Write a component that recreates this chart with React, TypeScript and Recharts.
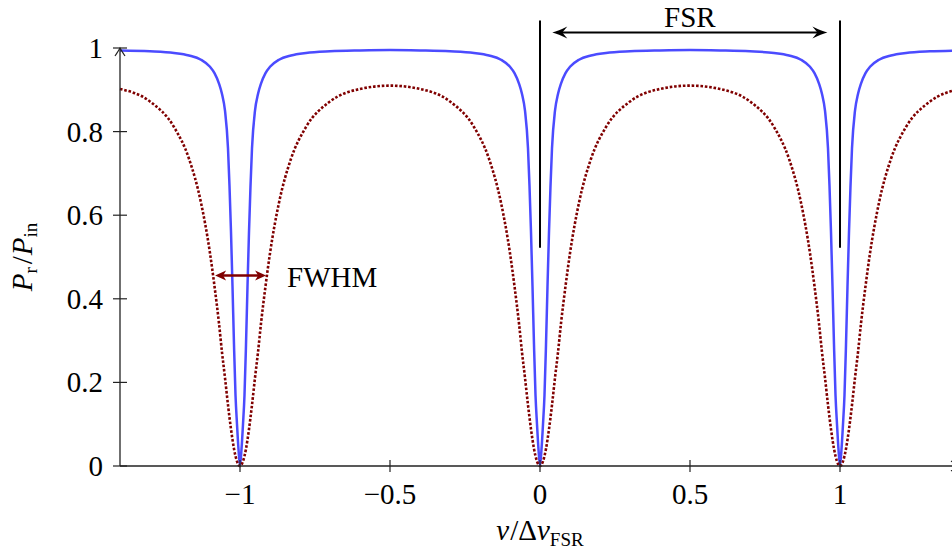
import { LineChart, Line, XAxis, YAxis, ReferenceLine, ReferenceDot } from 'recharts';

// normalised detuning nu / delta nu_FSR
const nu = [
  -1.4, -1.3, -1.22, -1.17, -1.13, -1.1, -1.085, -1.07, -1.06, -1.05, -1.04, -1.035, -1.03, -1.025, -1.02, -1.015, -1.01, -1.005,
  -1,
  -0.995, -0.99, -0.985, -0.98, -0.975, -0.97, -0.965, -0.96, -0.95, -0.94, -0.93, -0.915, -0.9, -0.87, -0.83, -0.78, -0.7, -0.6,
  -0.5,
  -0.4, -0.3, -0.22, -0.17, -0.13, -0.1, -0.085, -0.07, -0.06, -0.05, -0.04, -0.035, -0.03, -0.025, -0.02, -0.015, -0.01, -0.005,
  0,
  0.005, 0.01, 0.015, 0.02, 0.025, 0.03, 0.035, 0.04, 0.05, 0.06, 0.07, 0.085, 0.1, 0.13, 0.17, 0.22, 0.3, 0.4,
  0.5,
  0.6, 0.7, 0.78, 0.83, 0.87, 0.9, 0.915, 0.93, 0.94, 0.95, 0.96, 0.965, 0.97, 0.975, 0.98, 0.985, 0.99, 0.995,
  1,
  1.005, 1.01, 1.015, 1.02, 1.025, 1.03, 1.035, 1.04, 1.05, 1.06, 1.07, 1.085, 1.1, 1.13, 1.17, 1.22, 1.3, 1.4,
];

// high finesse (solid blue)
const blueReflection = [
  0.994, 0.992, 0.988, 0.982, 0.972, 0.955, 0.94, 0.915, 0.89, 0.85, 0.76, 0.67, 0.56, 0.43, 0.29, 0.17, 0.1, 0.04,
  0,
  0.04, 0.1, 0.17, 0.29, 0.43, 0.56, 0.67, 0.76, 0.85, 0.89, 0.915, 0.94, 0.955, 0.972, 0.982, 0.988, 0.992, 0.994,
  0.995,
  0.994, 0.992, 0.988, 0.982, 0.972, 0.955, 0.94, 0.915, 0.89, 0.85, 0.76, 0.67, 0.56, 0.43, 0.29, 0.17, 0.1, 0.04,
  0,
  0.04, 0.1, 0.17, 0.29, 0.43, 0.56, 0.67, 0.76, 0.85, 0.89, 0.915, 0.94, 0.955, 0.972, 0.982, 0.988, 0.992, 0.994,
  0.995,
  0.994, 0.992, 0.988, 0.982, 0.972, 0.955, 0.94, 0.915, 0.89, 0.85, 0.76, 0.67, 0.56, 0.43, 0.29, 0.17, 0.1, 0.04,
  0,
  0.04, 0.1, 0.17, 0.29, 0.43, 0.56, 0.67, 0.76, 0.85, 0.89, 0.915, 0.94, 0.955, 0.972, 0.982, 0.988, 0.992, 0.994,
];

// low finesse (dotted dark red)
const redReflection = [
  0.902, 0.872, 0.811, 0.735, 0.63, 0.509, 0.43, 0.341, 0.272, 0.211, 0.146, 0.116, 0.088, 0.063, 0.041, 0.024, 0.011, 0.003,
  0,
  0.003, 0.011, 0.024, 0.041, 0.063, 0.088, 0.116, 0.146, 0.211, 0.272, 0.341, 0.43, 0.509, 0.63, 0.735, 0.811, 0.872, 0.902,
  0.91,
  0.902, 0.872, 0.811, 0.735, 0.63, 0.509, 0.43, 0.341, 0.272, 0.211, 0.146, 0.116, 0.088, 0.063, 0.041, 0.024, 0.011, 0.003,
  0,
  0.003, 0.011, 0.024, 0.041, 0.063, 0.088, 0.116, 0.146, 0.211, 0.272, 0.341, 0.43, 0.509, 0.63, 0.735, 0.811, 0.872, 0.902,
  0.91,
  0.902, 0.872, 0.811, 0.735, 0.63, 0.509, 0.43, 0.341, 0.272, 0.211, 0.146, 0.116, 0.088, 0.063, 0.041, 0.024, 0.011, 0.003,
  0,
  0.003, 0.011, 0.024, 0.041, 0.063, 0.088, 0.116, 0.146, 0.211, 0.272, 0.341, 0.43, 0.509, 0.63, 0.735, 0.811, 0.872, 0.902,
];

const xTicks = [-1, -0.5, 0, 0.5, 1];
const yTicks = [0, 0.2, 0.4, 0.6, 0.8, 1];

// annotation positions in data units
const fsrArrow = { from: 0.041, to: 0.958, y: 1.037 };
const fsrMarkers = [0, 1];
const fsrMarkerSpan = { bottom: 0.522, top: 1.066 };
const fwhmArrow = { from: -1.083, to: -0.913, y: 0.456 };

const FONT = '"Liberation Serif", "DejaVu Serif", serif';
const FS = 29;
const SUB = 19;
const AXIS = '#222';

const rows = nu.map((v, i) => ({ nu: v, blue: blueReflection[i], red: redReflection[i] }));

const fmt = (v: number) => (v < 0 ? '\u2212' + Math.abs(v) : String(v));

function XTick(props: any) {
  const { x, y, payload } = props;
  return (
    <g>
      <line x1={x} y1={y - 6} x2={x} y2={y + 6} stroke={AXIS} strokeWidth={1.2} />
      <text x={x} y={y + 38} textAnchor="middle" fontFamily={FONT} fontSize={FS} fill="#000">
        {fmt(payload.value)}
      </text>
    </g>
  );
}

function YTick(props: any) {
  const { x, y, payload } = props;
  return (
    <g>
      <line x1={x - 7} y1={y} x2={x + 7} y2={y} stroke={AXIS} strokeWidth={1.2} />
      <text x={x - 17} y={y + 10} textAnchor="end" fontFamily={FONT} fontSize={FS} fill="#000">
        {fmt(payload.value)}
      </text>
    </g>
  );
}

// curved latex-style head, dir = +1 points right, -1 left
function latexHead(tx: number, ty: number, dir: number) {
  const b = tx - dir * 15;
  const n = tx - dir * 10;
  const c = tx - dir * 6;
  return `M${tx},${ty} Q${c},${ty - 1.5} ${b},${ty - 6} L${n},${ty} L${b},${ty + 6} Q${c},${ty + 1.5} ${tx},${ty} Z`;
}

function stealthHead(tx: number, ty: number, dir: number) {
  const b = tx - dir * 11;
  const n = tx - dir * 8;
  return `M${tx},${ty} L${b},${ty - 5} L${n},${ty} L${b},${ty + 5} Z`;
}

function FsrShape(p: any) {
  const { x1, y1, x2, y2 } = p;
  return (
    <g>
      <line x1={x1 + 6} y1={y1} x2={x2 - 6} y2={y2} stroke="#000" strokeWidth={2} />
      <path d={latexHead(x1, y1, -1)} fill="#000" />
      <path d={latexHead(x2, y2, 1)} fill="#000" />
      <text x={(x1 + x2) / 2} y={y1 - 6} textAnchor="middle" fontFamily={FONT} fontSize={FS} fill="#000">
        FSR
      </text>
    </g>
  );
}

function FwhmShape(p: any) {
  const { x1, y1, x2, y2 } = p;
  return (
    <g>
      <line x1={x1 + 5} y1={y1} x2={x2 - 5} y2={y2} stroke="#800000" strokeWidth={2.5} />
      <path d={stealthHead(x1, y1, -1)} fill="#800000" />
      <path d={stealthHead(x2, y2, 1)} fill="#800000" />
      <text x={x2 + 21} y={y1 + 12} fontFamily={FONT} fontSize={FS} fill="#000">
        FWHM
      </text>
    </g>
  );
}

function XAxisShape(p: any) {
  const { x1, y1, x2 } = p;
  return (
    <g>
      <line x1={x1} y1={y1} x2={x2} y2={y1} stroke={AXIS} strokeWidth={1.3} />
      <path d={`M${x2 - 9},${y1 - 5} Q${x2 - 2},${y1 - 1} ${x2},${y1} Q${x2 - 2},${y1 + 1} ${x2 - 9},${y1 + 5}`}
        fill="none" stroke={AXIS} strokeWidth={1.2} />
    </g>
  );
}

function YAxisShape(p: any) {
  const { x1, y1, y2 } = p;
  return (
    <g>
      <line x1={x1} y1={y1} x2={x1} y2={y2} stroke={AXIS} strokeWidth={1.3} />
      <path d={`M${x1 - 5},${y2 + 8} Q${x1 - 1},${y2 + 2} ${x1},${y2} Q${x1 + 1},${y2 + 2} ${x1 + 5},${y2 + 8}`}
        fill="none" stroke={AXIS} strokeWidth={1.2} />
    </g>
  );
}

function XTitle(p: any) {
  const { cx, cy } = p;
  return (
    <text x={cx} y={cy + 74} textAnchor="middle" fontFamily={FONT} fontSize={FS} fill="#000">
      <tspan fontStyle="italic">ν</tspan>
      <tspan dx={1}>/Δ</tspan>
      <tspan fontStyle="italic">ν</tspan>
      <tspan fontSize={SUB} dy={6}>FSR</tspan>
    </text>
  );
}

function YTitle(p: any) {
  const { cy } = p;
  const x = 32;
  return (
    <text x={x} y={cy} transform={`rotate(-90, ${x}, ${cy})`} textAnchor="middle" fontFamily={FONT} fontSize={FS} fill="#000">
      <tspan fontStyle="italic">P</tspan>
      <tspan fontSize={SUB} dy={5}>r</tspan>
      <tspan dx={3} dy={-5}>/</tspan>
      <tspan dx={1} fontStyle="italic">P</tspan>
      <tspan fontSize={SUB} dy={5}>in</tspan>
    </text>
  );
}

export default function App() {
  return (
    <div style={{ position: 'absolute', left: 0, top: 0, width: 952, height: 560, overflow: 'hidden', background: '#fff' }}>
      <LineChart width={960} height={560} data={rows} margin={{ top: 48, right: 0, bottom: 0, left: 0 }}>
        <XAxis
          type="number"
          dataKey="nu"
          domain={[-1.4, 1.4]}
          ticks={xTicks}
          interval={0}
          height={94}
          axisLine={false}
          tickLine={false}
          tickSize={0}
          tickMargin={0}
          tick={XTick}
        />
        <YAxis
          type="number"
          domain={[0, 1]}
          ticks={yTicks}
          interval={0}
          width={120}
          axisLine={false}
          tickLine={false}
          tickSize={0}
          tickMargin={0}
          tick={YTick}
        />
        <Line
          type="monotone"
          dataKey="blue"
          stroke="#4b4bff"
          strokeWidth={2.5}
          dot={false}
          isAnimationActive={false}
        />
        <Line
          type="monotone"
          dataKey="red"
          stroke="#800000"
          strokeWidth={2.6}
          strokeDasharray="2.6 1.8"
          dot={false}
          isAnimationActive={false}
        />
        <ReferenceLine
          segment={[{ x: -1.4, y: 0 }, { x: 1.4, y: 0 }]}
          ifOverflow="visible"
          shape={XAxisShape}
        />
        <ReferenceLine
          segment={[{ x: -1.4, y: 0 }, { x: -1.4, y: 1 }]}
          ifOverflow="visible"
          shape={YAxisShape}
        />
        {fsrMarkers.map((m) => (
          <ReferenceLine
            key={m}
            segment={[{ x: m, y: fsrMarkerSpan.bottom }, { x: m, y: fsrMarkerSpan.top }]}
            ifOverflow="visible"
            stroke="#000"
            strokeWidth={2}
          />
        ))}
        <ReferenceLine
          segment={[{ x: fsrArrow.from, y: fsrArrow.y }, { x: fsrArrow.to, y: fsrArrow.y }]}
          ifOverflow="visible"
          shape={FsrShape}
        />
        <ReferenceLine
          segment={[{ x: fwhmArrow.from, y: fwhmArrow.y }, { x: fwhmArrow.to, y: fwhmArrow.y }]}
          ifOverflow="visible"
          shape={FwhmShape}
        />
        <ReferenceDot x={0} y={0} r={0} ifOverflow="visible" shape={XTitle} />
        <ReferenceDot x={-1.4} y={0.5} r={0} ifOverflow="visible" shape={YTitle} />
      </LineChart>
    </div>
  );
}
